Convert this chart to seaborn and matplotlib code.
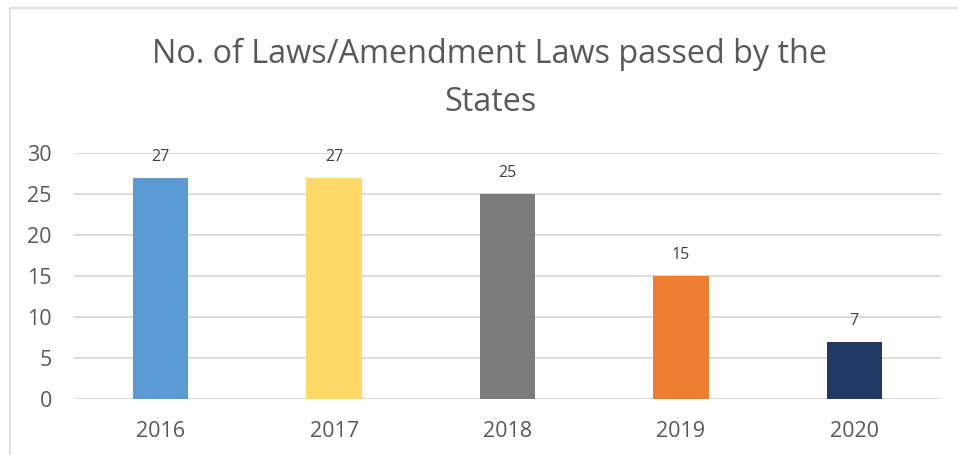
import matplotlib
matplotlib.use("Agg")
import matplotlib.pyplot as plt
from matplotlib.lines import Line2D
import pandas as pd
import seaborn as sns

years = ["2016", "2017", "2018", "2019", "2020"]
laws_passed = [27, 27, 25, 15, 7]
bar_colors = ["#5B9BD5", "#FFD966", "#7B7B7B", "#ED7D31", "#203864"]
y_ticks = [0, 5, 10, 15, 20, 25, 30]
title_text = "No. of Laws/Amendment Laws passed by the\nStates"

sns.set_theme(style="white")
plt.rcParams["font.family"] = ["Open Sans", "DejaVu Sans"]

df = pd.DataFrame({"year": years, "laws": laws_passed})

fig = plt.figure(figsize=(9.58, 4.55), dpi=100)
ax = fig.add_axes([74 / 958, 1 - 399 / 455, (941 - 74) / 958, (399 - 153) / 455])

sns.barplot(data=df, x="year", y="laws", hue="year", palette=bar_colors,
            width=0.32, legend=False, ax=ax, saturation=1, zorder=3,
            linewidth=0)

ax.set_ylim(0, 30)
ax.set_xlim(-0.5, len(years) - 0.5)
ax.set_yticks(y_ticks)
ax.yaxis.grid(True, color="#d9d9d9", linewidth=1.3, zorder=0)
ax.set_axisbelow(True)
for s in ax.spines.values():
    s.set_visible(False)
ax.set_xlabel("")
ax.set_ylabel("")
ax.tick_params(axis="both", length=0, labelsize=15.5, labelcolor="#595959")
ax.tick_params(axis="y", pad=16)
ax.tick_params(axis="x", pad=16)

for i, v in enumerate(laws_passed):
    ax.annotate(str(v), (i, v), xytext=(0, 15), textcoords="offset points",
                ha="center", va="center", fontsize=11.5, color="#404040",
                annotation_clip=False)

fig.text(490 / 958, 1 - 78 / 455, title_text, ha="center", va="center",
         fontsize=23.3, color="#595959", linespacing=1.6)

# outer frame lines (left and top)
fig.add_artist(Line2D([10 / 958, 10 / 958], [0, 1 - 8 / 455],
                      transform=fig.transFigure, color="#d9d9d9", linewidth=1.2))
fig.add_artist(Line2D([10 / 958, 1], [1 - 8 / 455, 1 - 8 / 455],
                      transform=fig.transFigure, color="#d9d9d9", linewidth=1.2))

fig.savefig("out.png", dpi=100)
